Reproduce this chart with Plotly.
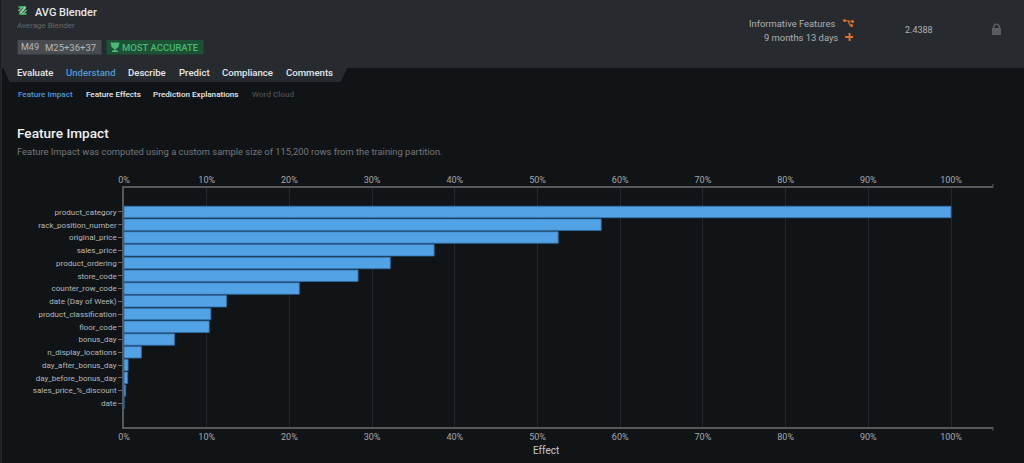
import plotly.graph_objects as go

features = ["product_category", "rack_position_number", "original_price", "sales_price",
            "product_ordering", "store_code", "counter_row_code", "date (Day of Week)",
            "product_classification", "floor_code", "bonus_day", "n_display_locations",
            "day_after_bonus_day", "day_before_bonus_day", "sales_price_%_discount", "date"]
effect = [100, 57.7, 52.5, 37.5, 32.2, 28.3, 21.2, 12.4, 10.5, 10.3, 6.1, 2.1, 0.5, 0.45, 0.2, 0]
tick_vals = [0, 10, 20, 30, 40, 50, 60, 70, 80, 90, 100]
tick_text = ["0%", "10%", "20%", "30%", "40%", "50%", "60%", "70%", "80%", "90%", "100%"]

W, H = 1024, 463
L, R, T, B = 123.5, 993, 188, 427
BG = "#111417"
HEAD = "#272b30"
FONT = "Roboto, sans-serif"


def px(x):
    return (x - L) / (R - L)


def py(y):
    return (B - y) / (B - T)


shapes = []


def rect(x0, y0, x1, y1, fill, line=None):
    shapes.append(dict(type="rect", xref="paper", yref="paper", x0=px(x0), x1=px(x1), y0=py(y0), y1=py(y1),
                       fillcolor=fill, line=dict(width=0 if line is None else 1, color=line or fill),
                       layer="below"))


def poly(points, fill):
    path = "M " + " L ".join(f"{px(a):.5f},{py(b):.5f}" for a, b in points) + " Z"
    shapes.append(dict(type="path", xref="paper", yref="paper", path=path, fillcolor=fill,
                       line=dict(width=0), layer="below"))


def seg(x0, y0, x1, y1, color, width=1.5):
    shapes.append(dict(type="line", xref="paper", yref="paper", x0=px(x0), x1=px(x1), y0=py(y0), y1=py(y1),
                       line=dict(color=color, width=width), layer="above"))


def dot(x, y, r, color):
    shapes.append(dict(type="circle", xref="paper", yref="paper", x0=px(x - r), x1=px(x + r),
                       y0=py(y + r), y1=py(y - r), fillcolor=color, line=dict(width=0), layer="above"))


annotations = []


def text(x, y, s, size, color, anchor="left", family=FONT, weight=400):
    shift = {"left": -3, "right": 1, "center": 0}[anchor]
    annotations.append(dict(xref="paper", yref="paper", x=px(x + shift), y=py(y), text=s,
                            showarrow=False, xanchor=anchor, yanchor="middle",
                            font=dict(size=size, color=color, family=family, weight=weight)))


# header band and tab strip
rect(0, 0, W, 68, HEAD)
poly([(3, 68), (347, 68), (340, 82), (9, 82)], HEAD)
seg(0.5, 68, 0.5, H, "#33373b", 1)

# model icon
seg(18, 7, 25, 7, "#3fa75f", 2)
seg(25, 7, 19, 14, "#8fd3a5", 2)
seg(19, 14, 26, 14, "#3fa75f", 2)
seg(18, 11, 22, 7, "#6cc48a", 1.5)
seg(22, 14, 26, 10, "#6cc48a", 1.5)

text(35, 12.5, "AVG Blender", 11, "#e6e8ea", weight=500)
text(17, 25, "Average Blender", 8, "#63676b")

rect(17, 40, 101, 54.5, "#484c50")
text(21, 47, "M49", 9, "#b5b8ba")
text(45, 47, "M25+36+37", 9.5, "#b5b8ba")
rect(106, 40, 203, 54.5, "#1c5135")
text(122, 47, "MOST ACCURATE", 9.5, "#4cb873", weight=500)
# trophy
poly([(110, 42.5), (119, 42.5), (118, 47), (115.3, 49), (115.3, 50.5), (117.5, 50.5), (117.5, 52),
      (111.5, 52), (111.5, 50.5), (113.7, 50.5), (113.7, 49), (111, 47)], "#4cb873")

for x, label, color in [(17.5, "Evaluate", "#e6e8ea"), (66.5, "Understand", "#4d9ad8"), (129, "Describe", "#e6e8ea"),
                        (179.5, "Predict", "#e6e8ea"), (223, "Compliance", "#e6e8ea"),
                        (286.5, "Comments", "#e6e8ea")]:
    text(x, 72.5, label, 9.6, color, weight=500)

for x, label, color in [(18, "Feature Impact", "#4d9ad8"), (86, "Feature Effects", "#e6e8ea"),
                        (154, "Prediction Explanations", "#e6e8ea"), (253, "Word Cloud", "#4a4d50")]:
    text(x, 94.5, label, 8.1, color, weight=500)

text(17, 133, "Feature Impact", 13.6, "#f0f1f2", weight=500)
text(17, 151, "Feature Impact was computed using a custom sample size of 115,200 rows from the training partition.",
     9.4, "#74787c")

# right side of header
text(835.5, 23, "Informative Features", 9.4, "#aeb1b4", anchor="right")
text(839, 37, "9 months 13 days", 9.4, "#aeb1b4", anchor="right")
text(919, 30.5, "2.4388", 9, "#aeb1b4", anchor="center")
seg(845, 37, 853, 37, "#e0702a", 2)
seg(849.5, 33, 849.5, 41, "#e0702a", 2)
seg(844.5, 20.5, 852.5, 21.5, "#e0702a", 1.2)
seg(848, 21, 850, 25.5, "#e0702a", 1.2)
seg(850, 25.5, 852.5, 25.5, "#e0702a", 1.2)
dot(844.5, 20.5, 1.5, "#e0702a")
dot(852.5, 21.5, 1.5, "#e0702a")
dot(851.5, 25.5, 1.5, "#e0702a")
# lock
rect(992, 28, 1001, 35, "#5a5e62")
shapes.append(dict(type="path", xref="paper", yref="paper",
                   path=f"M {px(993.5)},{py(28)} C {px(993.5)},{py(23)} {px(999.5)},{py(23)} {px(999.5)},{py(28)}",
                   line=dict(color="#5a5e62", width=1.5), layer="below"))

# axis end ticks
for y0, y1 in [(188, 184), (427, 431)]:
    seg(993, y0, 993, y1, "#55595c", 1)

text(546, 450.5, "Effect", 10, "#c9cbcd", anchor="center")

axis_style = dict(range=[0, (R - L) / (951 - L) * 100], tickvals=tick_vals, ticktext=tick_text,
                  showgrid=True, gridcolor="#24282c", gridwidth=1, zeroline=False, automargin=False,
                  showline=True, linecolor="#55595c", linewidth=1.5,
                  ticks="", tickfont=dict(size=9, color="#a6a9ac", family=FONT))

fig = go.Figure()
fig.add_trace(go.Bar(x=effect, y=features, orientation="h", marker=dict(color="#52a2e6",
                     line=dict(color="#2f6fa8", width=0.8)), hoverinfo="skip", showlegend=False))
fig.add_trace(go.Bar(x=effect, y=features, orientation="h", xaxis="x2", opacity=0,
                     hoverinfo="skip", showlegend=False))
fig.update_layout(
    width=W, height=H, autosize=False, paper_bgcolor=BG, plot_bgcolor=BG,
    margin=dict(l=L, r=W - R, t=T, b=H - B, pad=0, autoexpand=False), bargap=0.1, barmode="overlay",
    shapes=shapes, annotations=annotations, showlegend=False,
    xaxis=dict(**axis_style, side="bottom"),
    xaxis2=dict(**axis_style, side="top", overlaying="x", anchor="y"),
    yaxis=dict(type="category", categoryorder="array", categoryarray=features, range=[16.86, -1.88],
               showgrid=False, zeroline=False, showline=True, linecolor="#55595c", linewidth=1.5,
               automargin=False, ticks="outside", ticklen=4, tickcolor="#6a6d70",
               tickfont=dict(size=8, color="#b5b8ba", family=FONT)),
)
fig.write_html("out.html", post_script="document.body.style.margin='0';document.body.style.overflow='hidden';",
               config=dict(displayModeBar=False))
